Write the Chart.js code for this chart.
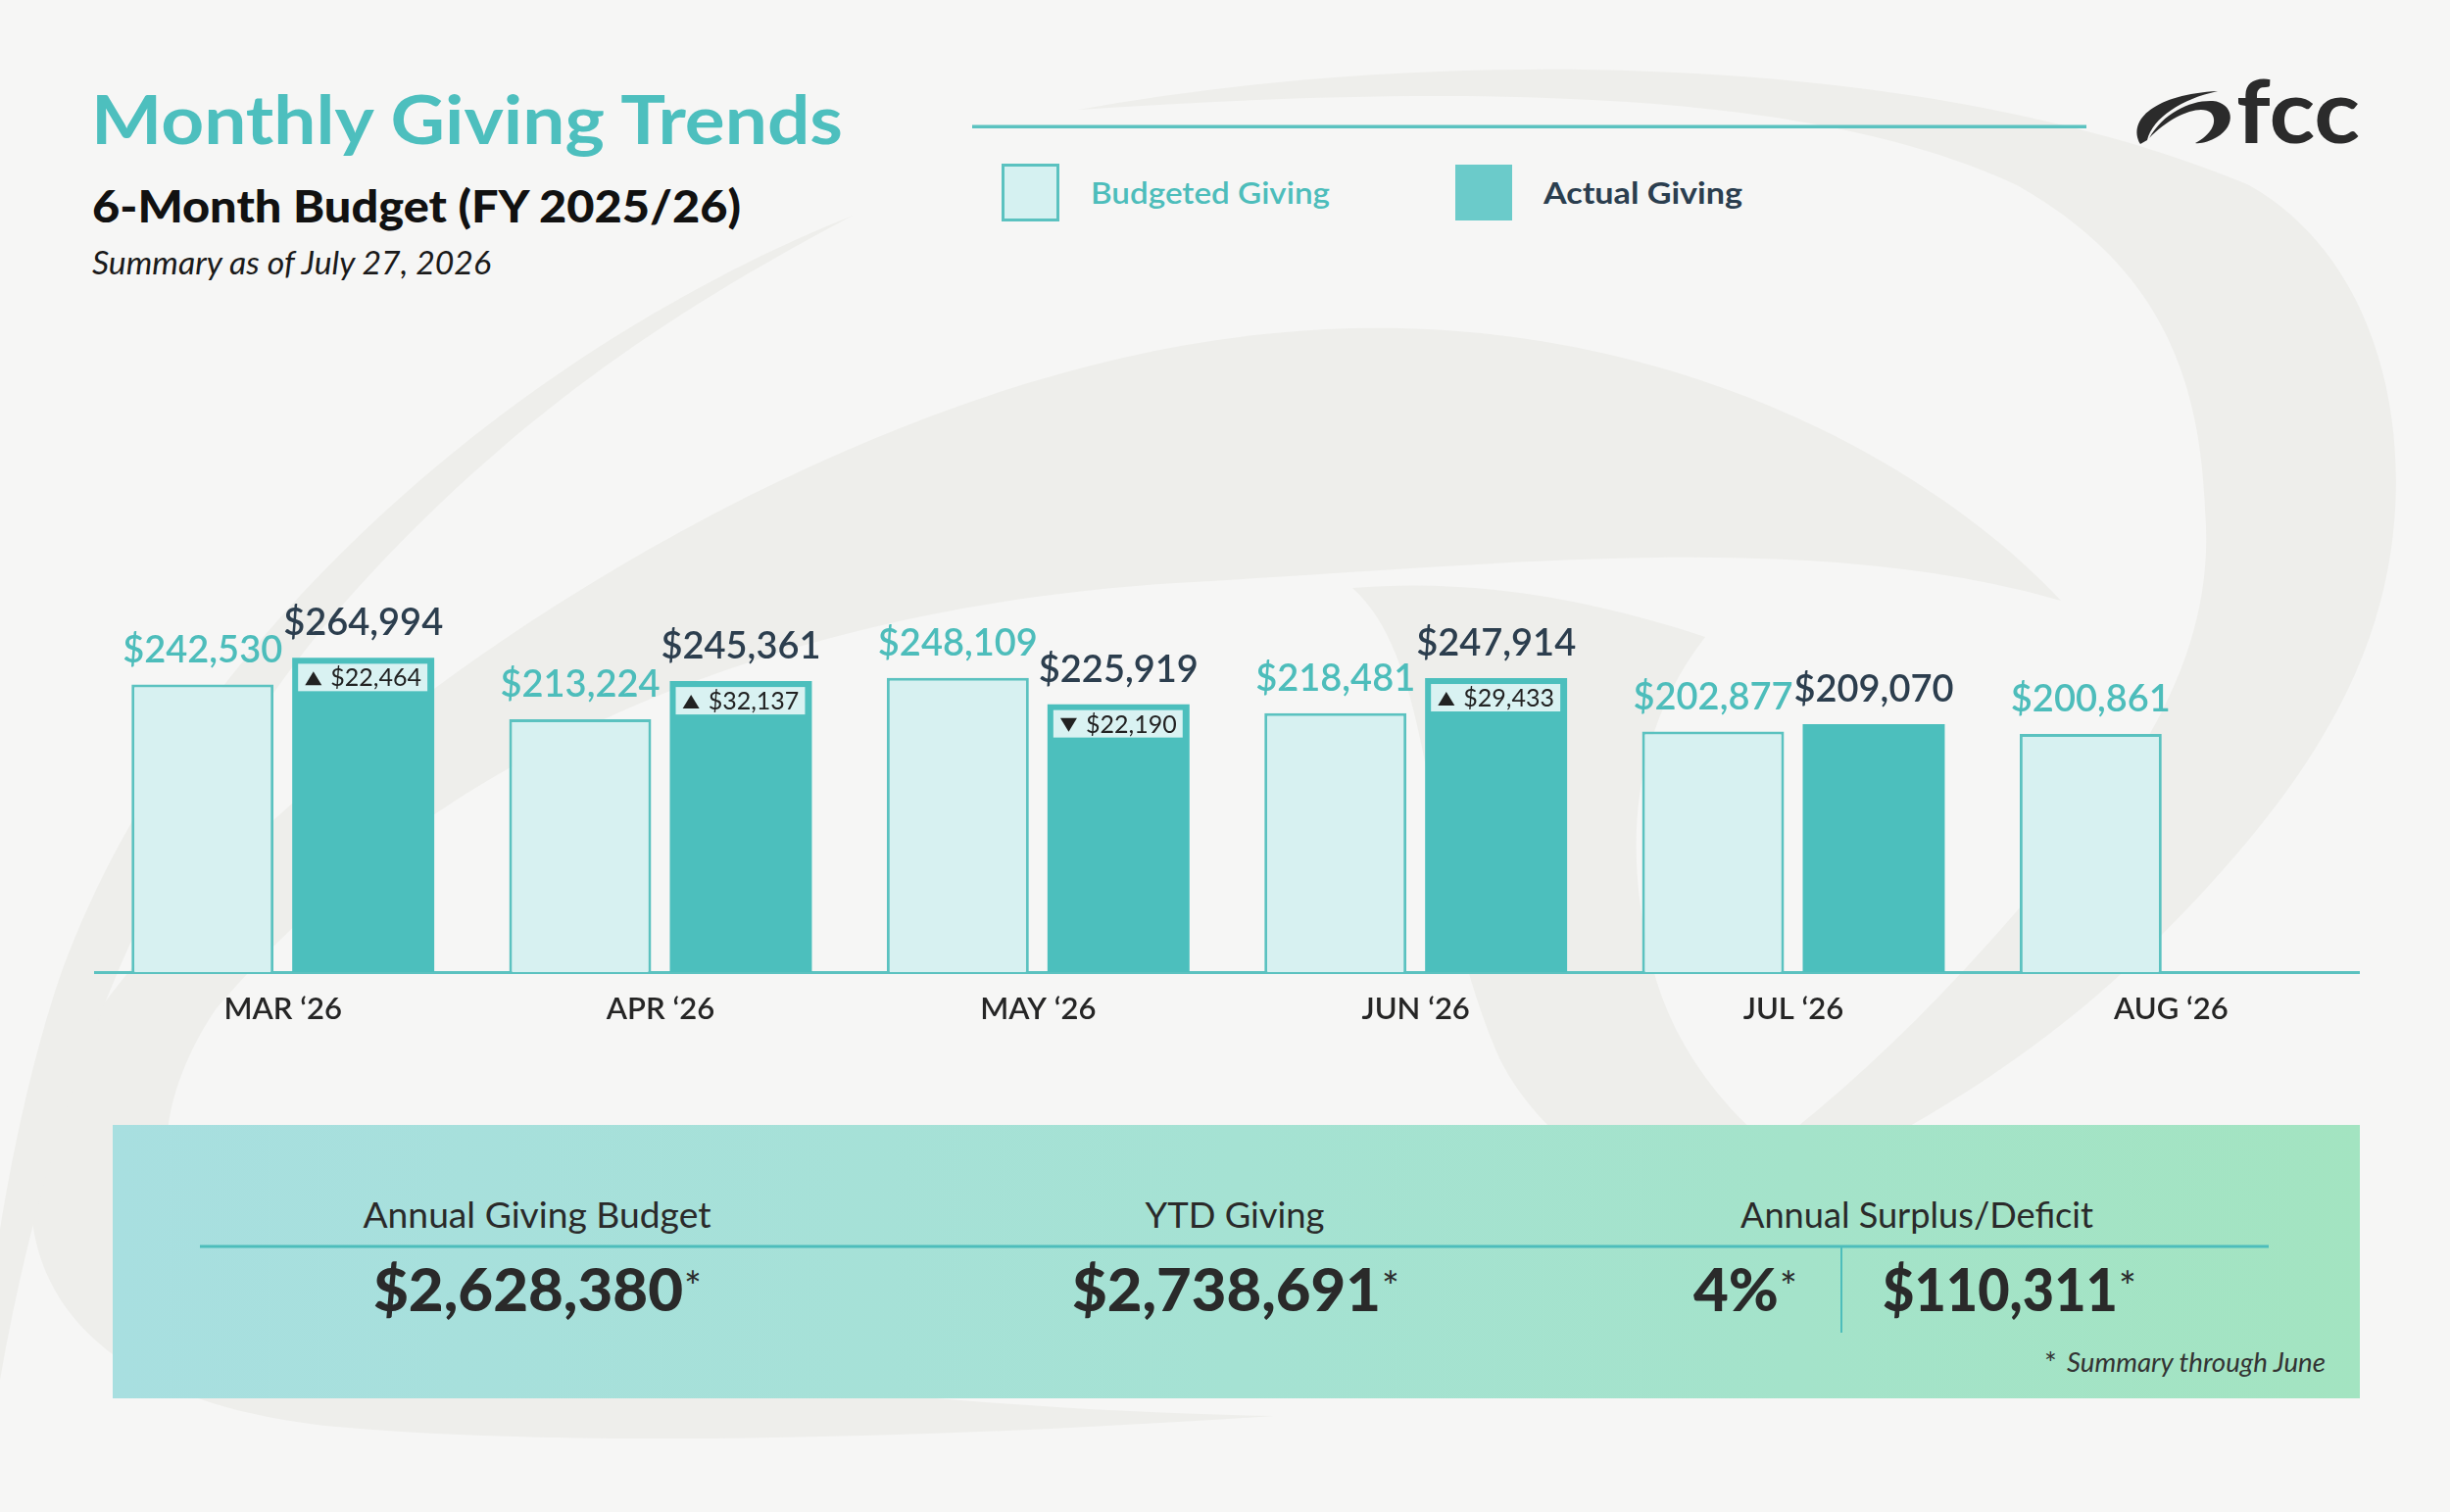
<!DOCTYPE html>
<html>
<head>
<meta charset="utf-8">
<script src="https://cdn.jsdelivr.net/npm/chart.js@4.4.1/dist/chart.umd.min.js"></script>
<style>
  html, body { margin: 0; padding: 0; }
  body { width: 2500px; height: 1543px; background: #f6f6f5; overflow: hidden; position: relative; font-family: Lato, sans-serif; }
  #bg { position: absolute; left: 0; top: 0; }
  #chartBox { position: absolute; left: 96px; top: 400px; width: 2312px; height: 700px; }
</style>
</head>
<body>
<svg id="bg" width="2500" height="1543" viewBox="0 0 2500 1543" xmlns="http://www.w3.org/2000/svg">
  <defs>
    <linearGradient id="panelGrad" x1="0" x2="1" y1="0" y2="0">
      <stop offset="0" stop-color="#a8dfe0"/>
      <stop offset="0.5" stop-color="#a5e2d3"/>
      <stop offset="1" stop-color="#a3e4c1"/>
    </linearGradient>
  </defs>
  <!-- background swirl -->
  <g fill="#eeeeeb">
    <path d="M 1100,112 C 1500,40 1990,60 2295,189 C 2420,260 2460,420 2440,560 C 2420,700 2340,820 2200,960 C 2080,1080 1900,1200 1650,1275 C 1820,1180 1960,1050 2100,880 C 2210,750 2260,640 2250,520 C 2245,380 2200,270 2060,190 C 1850,90 1500,85 1100,112 Z"/>
    <path d="M 2103,613 C 1950,450 1650,305 1300,340 C 850,380 300,740 80,1060 C -20,1230 20,1420 332,1455 C 600,1480 1000,1465 1300,1445 C 1000,1440 600,1400 292,1330 C 150,1280 140,1150 220,1030 C 450,760 800,620 1200,595 C 1550,575 1850,540 2103,613 Z"/>
    <path d="M 1380,600 C 1470,680 1450,900 1530,1080 C 1610,1240 1850,1290 2050,1305 C 1850,1230 1730,1130 1690,1000 C 1650,860 1670,740 1740,650 C 1620,610 1500,590 1380,600 Z"/>
    <path d="M 870,220 C 520,360 180,660 60,1000 C 20,1120 0,1250 -10,1320 L -10,1470 C 30,1200 120,900 330,640 C 500,440 680,320 870,220 Z"/>
  </g>

  <!-- header -->
  <text x="93" y="147" font-family="Lato" font-weight="700" font-size="68" fill="#4dbfbe" textLength="767" lengthAdjust="spacingAndGlyphs">Monthly Giving Trends</text>
  <text x="94" y="227" font-family="Lato" font-weight="900" font-size="45" fill="#111111" textLength="662" lengthAdjust="spacingAndGlyphs">6-Month Budget (FY 2025/26)</text>
  <text x="94" y="280" font-family="Lato" font-style="italic" font-size="32" fill="#1a1a1a" textLength="407" lengthAdjust="spacingAndGlyphs">Summary as of July 27, 2026</text>

  <rect x="992" y="127.5" width="1137" height="3.5" fill="#5bc2c0"/>

  <!-- legend -->
  <rect x="1023.5" y="168.5" width="56" height="56" fill="#d5f1f1" stroke="#5bc2c0" stroke-width="3"/>
  <text x="1113" y="208" font-family="Lato" font-weight="600" font-size="31" fill="#4dbdbb" textLength="244" lengthAdjust="spacingAndGlyphs">Budgeted Giving</text>
  <rect x="1485" y="168" width="58" height="57" fill="#6bcbca"/>
  <text x="1575" y="208" font-family="Lato" font-weight="700" font-size="31" fill="#2b3e4f" textLength="203" lengthAdjust="spacingAndGlyphs">Actual Giving</text>

  <!-- logo -->
  <g fill="#2b2b2b">
    <path d="M 2184,147 C 2170,122 2200,96 2263,93 C 2226,101 2197,120 2191,143 Z"/>
    <path d="M 2193,141 C 2208,115 2235,102 2258,103 C 2279,105 2283,128 2262,140 C 2255,144 2246,147 2240,146 C 2256,138 2264,124 2256,115 C 2245,106 2215,118 2193,141 Z"/>
  </g>
  <text x="2282" y="146" font-family="Lato" font-weight="700" font-size="90" fill="#2b2b2b" textLength="126" lengthAdjust="spacingAndGlyphs">fcc</text>

  <!-- summary panel -->
  <rect x="115" y="1148" width="2293" height="279" fill="url(#panelGrad)"/>
  <rect x="204" y="1270.5" width="2111" height="3" fill="#4dbdbb"/>
  <rect x="1878" y="1273" width="2" height="87" fill="#4dbdbb"/>
  <g id="summary"></g>
</svg>

<div id="chartBox"><canvas id="giving"></canvas></div>

<script>
const months = ['MAR \u201826', 'APR \u201826', 'MAY \u201826', 'JUN \u201826', 'JUL \u201826', 'AUG \u201826'];
const budgeted = [242530, 213224, 248109, 218481, 202877, 200861];
const actual = [264994, 245361, 225919, 247914, 209070, null];
const variance = [22464, 32137, -22190, 29433, null, null]; // shown only for closed months

const summaryLabels = ['Annual Giving Budget', 'YTD Giving', 'Annual Surplus/Deficit'];
const summaryValues = ['$2,628,380', '$2,738,691', '4%', '$110,311'];
const summaryNote = 'Summary through June';

const money = v => '$' + Math.abs(v).toLocaleString('en-US');

// summary panel text
const NS = 'http://www.w3.org/2000/svg';
const summary = document.getElementById('summary');
function svgText(str, attrs) {
  const t = document.createElementNS(NS, 'text');
  for (const k in attrs) t.setAttribute(k, attrs[k]);
  t.textContent = str;
  summary.appendChild(t);
  return t;
}
const headX = [548, 1260, 1956];
const headW = [355, 183, 360];
summaryLabels.forEach((s, i) => {
  svgText(s, { x: headX[i], y: 1253, 'text-anchor': 'middle', 'font-family': 'Lato', 'font-size': 36,
    fill: '#2a2a2a', textLength: headW[i], lengthAdjust: 'spacingAndGlyphs' });
});
const valX = [381, 1094, 1728, 1921];
const valW = [316, 315, 87, 240];
summaryValues.forEach((s, i) => {
  svgText(s, { x: valX[i], y: 1338, 'font-family': 'Lato', 'font-weight': 900, 'font-size': 60,
    fill: '#2a2a2a', textLength: valW[i], lengthAdjust: 'spacingAndGlyphs' });
  svgText('*', { x: valX[i] + valW[i] + 1, y: 1328, 'font-family': 'Lato', 'font-size': 42, fill: '#2a2a2a' });
});
svgText('*', { x: 2086, y: 1402, 'font-family': 'Lato', 'font-size': 30, fill: '#333' });
svgText(summaryNote, { x: 2373, y: 1400, 'text-anchor': 'end', 'font-family': 'Lato', 'font-style': 'italic',
  'font-size': 27, fill: '#333', textLength: 264, lengthAdjust: 'spacingAndGlyphs' });

// value labels above bars + variance badge inside actual bars
const barLabels = {
  id: 'barLabels',
  afterDatasetsDraw(chart) {
    const ctx = chart.ctx;
    ctx.save();
    chart.data.datasets.forEach((ds, i) => {
      const meta = chart.getDatasetMeta(i);
      meta.data.forEach((bar, j) => {
        const v = ds.data[j];
        if (v == null) return;
        ctx.font = '600 38px Lato';
        ctx.fillStyle = i === 0 ? '#4dbdbb' : '#2c3e4e';
        ctx.textAlign = 'center';
        ctx.textBaseline = 'alphabetic';
        ctx.fillText(money(v), bar.x, bar.y - 23);

        if (i === 1 && variance[j] != null) {
          const left = bar.x - bar.width / 2 + 6;
          const w = bar.width - 13;
          const top = bar.y + 6;
          ctx.fillStyle = '#d9f2f2';
          ctx.fillRect(left, top, w, 28);

          const txt = money(variance[j]);
          ctx.font = '25px Lato';
          const tw = ctx.measureText(txt).width;
          const total = 17 + 9 + tw;
          const sx = bar.x - total / 2;
          ctx.fillStyle = '#222222';
          ctx.beginPath();
          if (variance[j] >= 0) {
            ctx.moveTo(sx, top + 22); ctx.lineTo(sx + 17, top + 22); ctx.lineTo(sx + 8.5, top + 8);
          } else {
            ctx.moveTo(sx, top + 8); ctx.lineTo(sx + 17, top + 8); ctx.lineTo(sx + 8.5, top + 22);
          }
          ctx.closePath();
          ctx.fill();
          ctx.textAlign = 'left';
          ctx.fillText(txt, sx + 26, top + 23);
        }
      });
    });
    ctx.restore();
  }
};

new Chart(document.getElementById('giving'), {
  type: 'bar',
  data: {
    labels: months,
    datasets: [
      {
        label: 'Budgeted Giving',
        data: budgeted,
        backgroundColor: '#d7f1f1',
        borderColor: '#5bc2c0',
        borderWidth: 3,
        borderSkipped: 'bottom',
        categoryPercentage: 0.851,
        barPercentage: 0.884,
      },
      {
        label: 'Actual Giving',
        data: actual,
        backgroundColor: '#4cbfbd',
        borderWidth: 0,
        categoryPercentage: 0.851,
        barPercentage: 0.884,
      },
    ],
  },
  options: {
    responsive: true,
    maintainAspectRatio: false,
    animation: false,
    devicePixelRatio: 1,
    layout: { padding: { top: 229, left: 0, right: 0, bottom: 0 } },
    scales: {
      x: {
        grid: { display: false, drawTicks: false },
        border: { display: true, color: '#5bc2c0', width: 3 },
        ticks: {
          color: '#252525',
          padding: 19,
          font: { family: 'Lato', size: 31, weight: '600' },
        },
        afterFit(scale) { scale.height = 108; },
      },
      y: { display: false, min: 0, max: 300000 },
    },
    plugins: {
      legend: { display: false },
      tooltip: { enabled: false },
    },
  },
  plugins: [barLabels],
});
</script>
</body>
</html>
